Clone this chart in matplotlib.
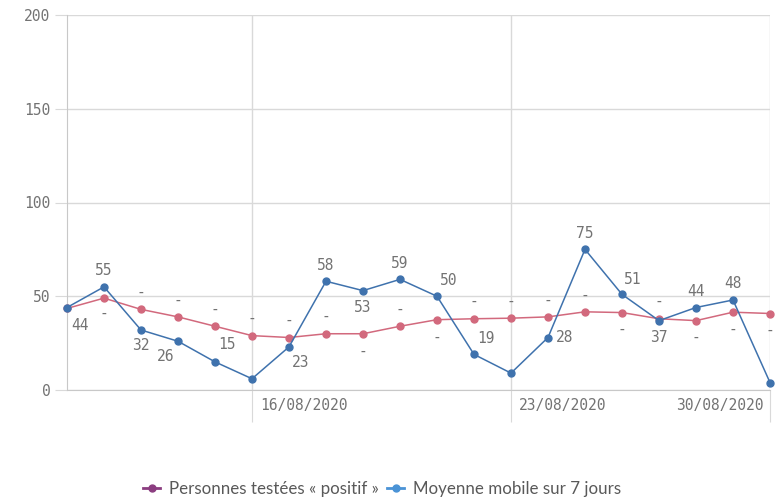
import numpy as np
import pandas as pd
import matplotlib
matplotlib.use("Agg")
import matplotlib.pyplot as plt
import matplotlib.dates as mdates
import matplotlib.transforms as mtransforms
from matplotlib.lines import Line2D

# data
dates = pd.date_range("2020-08-11", "2020-08-30", freq="D")
daily = [44, 55, 32, 26, 15, 6, 23, 58, 53, 59, 50, 19, 9, 28, 75, 51, 37, 44, 48, 4]
moving_avg = [43.5, 49, 43, 39, 34, 29, 28, 30, 30, 34, 37.5, 38, 38.3, 39, 41.7, 41.3, 38, 37, 41.5, 40.8]
daily_labels = ["44", "55", "32", "26", "15", "", "23", "58", "53", "59", "50", "19", "", "28", "75", "51", "37", "44", "48", ""]
avg_labels = ["", "-", "-", "-", "-", "-", "-", "-", "-", "-", "-", "-", "-", "-", "-", "-", "-", "-", "-", "-"]
tick_dates = ["2020-08-16", "2020-08-23", "2020-08-30"]
legend_names = ["Personnes testées « positif »", "Moyenne mobile sur 7 jours"]

# label offsets in pixels (dx, dy)
daily_offsets = [(13, -18), (0, 16), (0, -16), (-12, -15), (12, 17), (0, 0), (12, -16), (0, 16), (0, -17), (0, 16),
                 (12, 16), (12, 16), (0, 0), (17, 0), (0, 16), (11, 15), (0, -17), (0, 16), (0, 16), (0, 0)]
avg_dy = [0, -15, 17, 17, 17, 17, 17, 17, -18, 17, -18, 17, 17, 17, 17, -17, 17, -17, -17, -17]

BLUE = "#3f72ad"
RED = "#d2697d"
GREY = "#737373"
GRID = "#d9d9d9"
MONO = "DejaVu Sans Mono"

fig = plt.figure(figsize=(7.75, 5.03), dpi=100)
ax = fig.add_axes([67 / 775, 113 / 503, 703 / 775, 375 / 503])

ax.plot(dates, moving_avg, color=RED, lw=1.1, marker="o", ms=5, clip_on=False, zorder=3)
ax.plot(dates, daily, color=BLUE, lw=1.1, marker="o", ms=5, clip_on=False, zorder=4)

for d, v, t, (dx, dy) in zip(dates, daily, daily_labels, daily_offsets):
    if t:
        ax.annotate(t, (d, v), xytext=(dx, dy), textcoords="offset pixels", ha="center", va="center",
                    fontsize=10.5, family=MONO, color=GREY, annotation_clip=False)
for d, v, t, dy in zip(dates, moving_avg, avg_labels, avg_dy):
    if t:
        ax.annotate(t, (d, v), xytext=(0, dy), textcoords="offset pixels", ha="center", va="center",
                    fontsize=10.5, family=MONO, color=GREY, annotation_clip=False)

ax.set_xlim(dates[0], dates[-1])
ax.set_ylim(0, 200)
ax.set_yticks([0, 50, 100, 150, 200])
ax.set_xticks(pd.to_datetime(tick_dates))
ax.xaxis.set_major_formatter(mdates.DateFormatter("%d/%m/%Y"))

ax.grid(True, color=GRID, lw=1)
ax.set_axisbelow(True)
for s in ["top", "right"]:
    ax.spines[s].set_visible(False)
for s in ["left", "bottom"]:
    ax.spines[s].set_color("#c8c8c8")

ax.tick_params(axis="y", length=9, color=GRID, labelcolor=GREY, labelsize=10.5, pad=3)
ax.tick_params(axis="x", length=23, color=GRID, labelcolor=GREY, labelsize=10.5, pad=-17)
for lab in ax.get_xticklabels() + ax.get_yticklabels():
    lab.set_family(MONO)

# date labels sit to the right of their gridline, the last one to the left
xlabs = ax.get_xticklabels()
right_shift = mtransforms.ScaledTranslation(8 / 100, 0, fig.dpi_scale_trans)
left_shift = mtransforms.ScaledTranslation(-6 / 100, 0, fig.dpi_scale_trans)
for lab in xlabs[:-1]:
    lab.set_ha("left")
    lab.set_transform(lab.get_transform() + right_shift)
xlabs[-1].set_ha("right")
xlabs[-1].set_transform(xlabs[-1].get_transform() + left_shift)

handles = [Line2D([], [], color="#8b3d80", marker="o", ms=5, lw=2),
           Line2D([], [], color="#4a93d6", marker="o", ms=5, lw=2)]
fig.legend(handles, legend_names, loc="center", bbox_to_anchor=(382 / 775, 1 - 489 / 503), ncol=2,
           frameon=False, handlelength=1.0, handletextpad=0.5, columnspacing=0.5,
           prop={"family": "Lato", "size": 12.2}, labelcolor="#595959")

fig.savefig("out.png", dpi=100)
